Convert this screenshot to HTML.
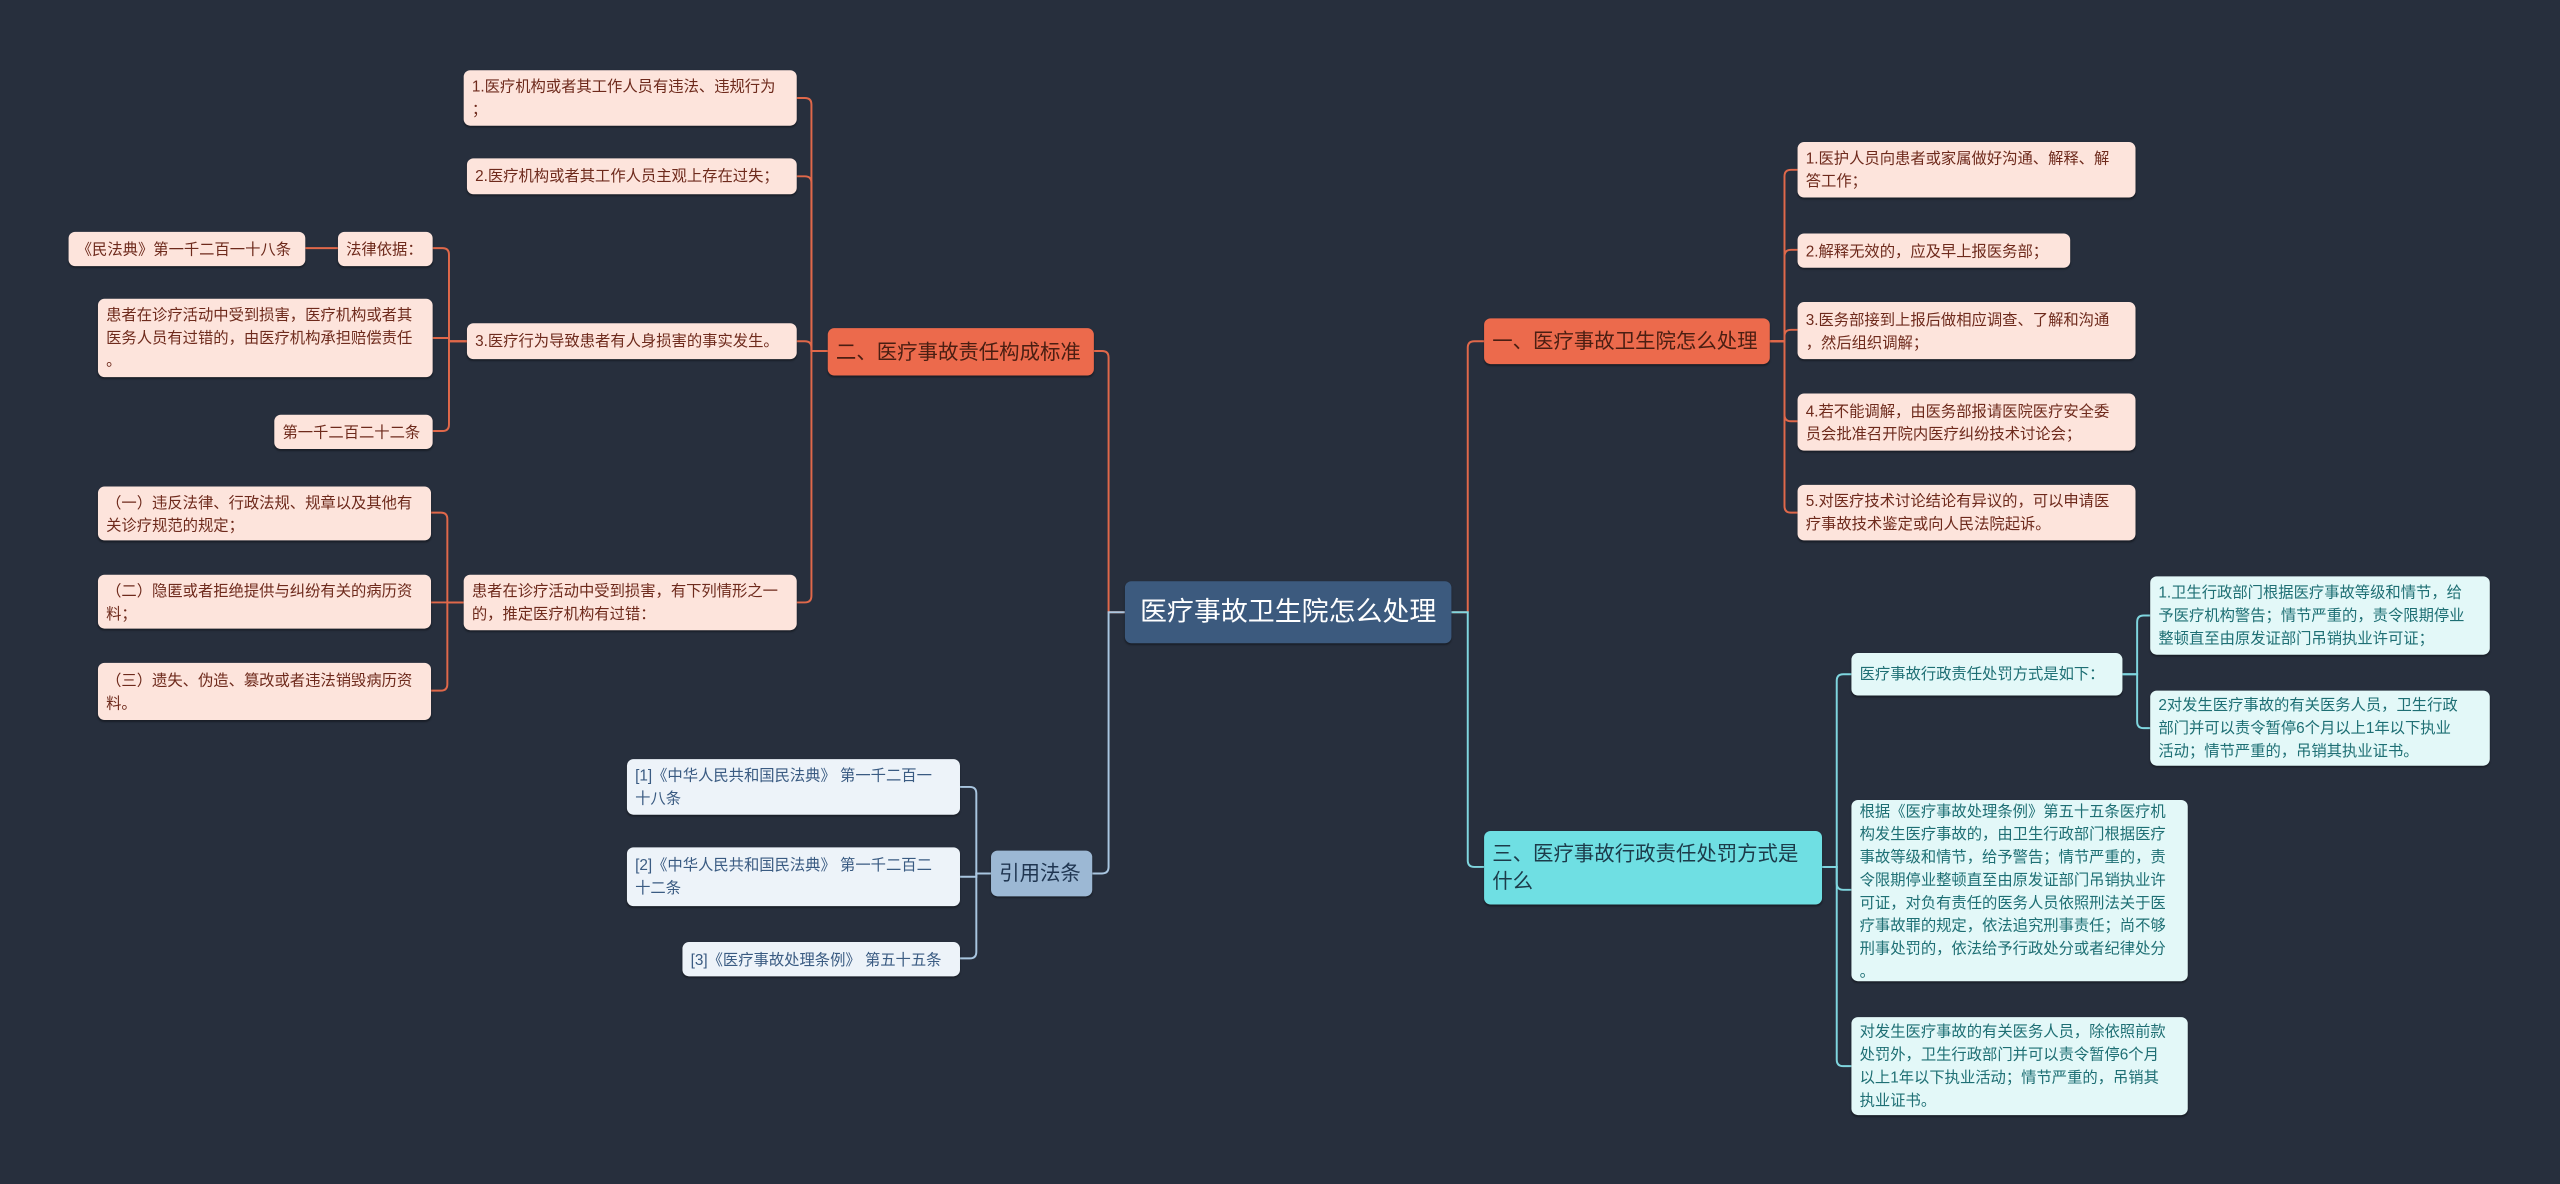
<!DOCTYPE html>
<html><head><meta charset="utf-8"><style>
html,body{margin:0;padding:0;background:#272f3d;overflow:hidden;width:2560px;height:1183px}
#c{position:absolute;left:0;top:0;width:1568px;height:725px;transform:scale(1.63265);transform-origin:0 0;font-family:"Liberation Sans","Noto Sans CJK SC",sans-serif}
.n{position:absolute;box-sizing:border-box;border-radius:4px;display:flex;align-items:center;padding:0 5px;font-size:9.4px;line-height:14px;white-space:nowrap;box-shadow:0 1px 1px rgba(0,0,0,.35)}
.p{background:#fde4dc;color:#6e2a1c}
.t{background:#e3f8f8;color:#1e6f74}
.f{background:#edf3f9;color:#3a5b82}
svg{position:absolute;left:0;top:0}
</style></head><body><div id="c">
<svg width="1568" height="725" fill="none" stroke-width="1.2">
<g stroke="#e0684a">
<path d="M889 375 H899 V213 Q899 209 903 209 H909"/>
<path d="M689 375 H679 V219 Q679 215 675 215 H670"/>
<path d="M507 215 H497 V64 Q497 60 493 60 H488"/>
<path d="M507 215 H497 V112 Q497 108 493 108 H488"/>
<path d="M507 215 H497 V213 Q497 209 493 209 H488"/>
<path d="M507 215 H497 V365 Q497 369 493 369 H488"/>
<path d="M286 209 H275 V156 Q275 152 271 152 H265"/>
<path d="M286 209 H275 V207 H265"/>
<path d="M286 209 H275 V260 Q275 264 271 264 H265"/>
<path d="M207 152 H187"/>
<path d="M284 369 H274 V318 Q274 314 270 314 H264"/>
<path d="M284 369 H264"/>
<path d="M284 369 H274 V419 Q274 423 270 423 H264"/>
<path d="M1084 209 H1093 V108 Q1093 104 1097 104 H1101"/>
<path d="M1084 209 H1093 V157 Q1093 153 1097 153 H1101"/>
<path d="M1084 209 H1093 V206 Q1093 202 1097 202 H1101"/>
<path d="M1084 209 H1093 V254 Q1093 258 1097 258 H1101"/>
<path d="M1084 209 H1093 V310 Q1093 314 1097 314 H1101"/>
</g>
<g stroke="#7fd6df">
<path d="M889 375 H899 V527 Q899 531 903 531 H909"/>
<path d="M1116 531 H1125 V417 Q1125 413 1129 413 H1134"/>
<path d="M1116 531 H1125 V541 Q1125 545 1129 545 H1134"/>
<path d="M1116 531 H1125 V649 Q1125 653 1129 653 H1134"/>
<path d="M1300 413 H1309 V381 Q1309 377 1313 377 H1317"/>
<path d="M1300 413 H1309 V442 Q1309 446 1313 446 H1317"/>
</g>
<g stroke="#a9c6e0">
<path d="M689 375 H679 V531 Q679 535 675 535 H669"/>
<path d="M607 535 H598 V486 Q598 482 594 482 H588"/>
<path d="M607 535 H598 V537 H588"/>
<path d="M607 535 H598 V583 Q598 587 594 587 H588"/>
</g>
</svg>

<div class="n" style="left:689px;top:356px;width:200px;height:38px;background:#3c5a7e;color:#fff;font-size:16.5px;justify-content:center">医疗事故卫生院怎么处理</div>
<div class="n" style="left:507px;top:201px;width:163px;height:29px;background:#ec6a4c;color:#4a1e12;font-size:12.5px">二、医疗事故责任构成标准</div>
<div class="n" style="left:909px;top:195px;width:175px;height:28px;background:#ec6a4c;color:#4a1e12;font-size:12.5px">一、医疗事故卫生院怎么处理</div>
<div class="n" style="left:909px;top:509px;width:207px;height:45px;background:#6fdfe3;color:#1c3b4a;font-size:12.5px;line-height:17px">三、医疗事故行政责任处罚方式是<br>什么</div>
<div class="n" style="left:607px;top:521px;width:62px;height:28px;background:#9cb8d4;color:#1f3550;font-size:12.5px">引用法条</div>

<div class="n p" style="left:284px;top:43px;width:204px;height:34px">1.医疗机构或者其工作人员有违法、违规行为<br>；</div>
<div class="n p" style="left:286px;top:97px;width:202px;height:22px">2.医疗机构或者其工作人员主观上存在过失；</div>
<div class="n p" style="left:286px;top:198px;width:202px;height:22px">3.医疗行为导致患者有人身损害的事实发生。</div>
<div class="n p" style="left:284px;top:352px;width:204px;height:34px">患者在诊疗活动中受到损害，有下列情形之一<br>的，推定医疗机构有过错：</div>
<div class="n p" style="left:207px;top:142px;width:58px;height:21px">法律依据：</div>
<div class="n p" style="left:42px;top:142px;width:145px;height:21px">《民法典》第一千二百一十八条</div>
<div class="n p" style="left:60px;top:183px;width:205px;height:48px">患者在诊疗活动中受到损害，医疗机构或者其<br>医务人员有过错的，由医疗机构承担赔偿责任<br>。</div>
<div class="n p" style="left:168px;top:254px;width:97px;height:21px">第一千二百二十二条</div>
<div class="n p" style="left:60px;top:298px;width:204px;height:33px">（一）违反法律、行政法规、规章以及其他有<br>关诊疗规范的规定；</div>
<div class="n p" style="left:60px;top:352px;width:204px;height:33px">（二）隐匿或者拒绝提供与纠纷有关的病历资<br>料；</div>
<div class="n p" style="left:60px;top:406px;width:204px;height:35px">（三）遗失、伪造、篡改或者违法销毁病历资<br>料。</div>

<div class="n p" style="left:1101px;top:87px;width:207px;height:34px">1.医护人员向患者或家属做好沟通、解释、解<br>答工作；</div>
<div class="n p" style="left:1101px;top:143px;width:167px;height:21px">2.解释无效的，应及早上报医务部；</div>
<div class="n p" style="left:1101px;top:185px;width:207px;height:35px">3.医务部接到上报后做相应调查、了解和沟通<br>，然后组织调解；</div>
<div class="n p" style="left:1101px;top:241px;width:207px;height:35px">4.若不能调解，由医务部报请医院医疗安全委<br>员会批准召开院内医疗纠纷技术讨论会；</div>
<div class="n p" style="left:1101px;top:297px;width:207px;height:34px">5.对医疗技术讨论结论有异议的，可以申请医<br>疗事故技术鉴定或向人民法院起诉。</div>

<div class="n t" style="left:1134px;top:400px;width:166px;height:26px">医疗事故行政责任处罚方式是如下：</div>
<div class="n t" style="left:1317px;top:353px;width:208px;height:48px">1.卫生行政部门根据医疗事故等级和情节，给<br>予医疗机构警告；情节严重的，责令限期停业<br>整顿直至由原发证部门吊销执业许可证；</div>
<div class="n t" style="left:1317px;top:423px;width:208px;height:46px">2对发生医疗事故的有关医务人员，卫生行政<br>部门并可以责令暂停6个月以上1年以下执业<br>活动；情节严重的，吊销其执业证书。</div>
<div class="n t" style="left:1134px;top:490px;width:206px;height:111px">根据《医疗事故处理条例》第五十五条医疗机<br>构发生医疗事故的，由卫生行政部门根据医疗<br>事故等级和情节，给予警告；情节严重的，责<br>令限期停业整顿直至由原发证部门吊销执业许<br>可证，对负有责任的医务人员依照刑法关于医<br>疗事故罪的规定，依法追究刑事责任；尚不够<br>刑事处罚的，依法给予行政处分或者纪律处分<br>。</div>
<div class="n t" style="left:1134px;top:623px;width:206px;height:60px">对发生医疗事故的有关医务人员，除依照前款<br>处罚外，卫生行政部门并可以责令暂停6个月<br>以上1年以下执业活动；情节严重的，吊销其<br>执业证书。</div>

<div class="n f" style="left:384px;top:465px;width:204px;height:34px">[1]《中华人民共和国民法典》 第一千二百一<br>十八条</div>
<div class="n f" style="left:384px;top:519px;width:204px;height:36px">[2]《中华人民共和国民法典》 第一千二百二<br>十二条</div>
<div class="n f" style="left:418px;top:577px;width:170px;height:21px">[3]《医疗事故处理条例》 第五十五条</div>
</div></body></html>
